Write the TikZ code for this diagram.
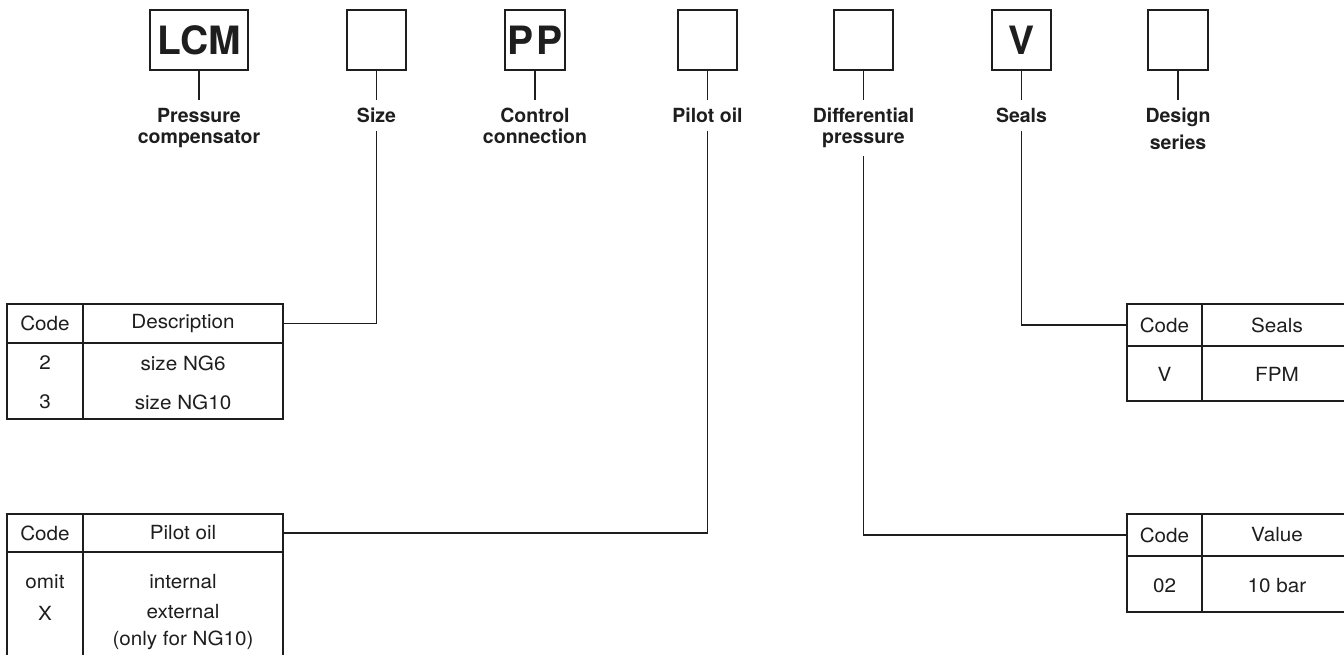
\documentclass[tikz,border=0pt]{standalone}
\usepackage{fontspec}
\setmainfont{TeX Gyre Heros}
\newfontfamily\lblfont{TeX Gyre Heros}
\newfontfamily\tabfont[FakeStretch=1.06]{TeX Gyre Heros}
\definecolor{ink}{HTML}{1E1E1E}
\begin{document}
\begin{tikzpicture}[x=1pt,y=-1pt,
  topbox/.style={draw=ink, line width=1.5pt, minimum height=60pt, minimum width=59pt, inner sep=0pt,
    text=ink, font=\lblfont\bfseries\fontsize{39}{39}\selectfont},
  lbl/.style={anchor=north, inner sep=0pt, outer sep=8pt, align=center, text=ink,
    font=\lblfont\bfseries\fontsize{19.5}{21}\selectfont},
  cell/.style={draw=ink, line width=1.2pt, inner sep=0pt, text=ink,
    font=\tabfont\fontsize{19.5}{27}\selectfont},
  txt/.style={inner sep=0pt, align=center, text=ink, font=\tabfont\fontsize{19.5}{27}\selectfont},
  conn/.style={draw=ink, line width=1.2pt}]
\useasboundingbox (0,0) rectangle (1344,655);
\clip (0,0) rectangle (1344,655);

% top code boxes
\node[topbox, minimum width=98pt] (b1) at (199,40) {LCM};
\node[topbox] (b2) at (376.5,40) {};
\node[topbox, minimum width=60pt] (b3) at (535,40) {P\hspace{3pt}P};
\node[topbox] (b4) at (707.5,40) {};
\node[topbox] (b5) at (863.5,40) {};
\node[topbox] (b6) at (1021.5,40) {V};
\node[topbox, minimum width=60pt] (b7) at (1178,40) {};

% labels
\node[lbl] (l1) at (199,100) {Pressure\\compensator};
\node[lbl] (l2) at (376.5,100) {Size};
\node[lbl] (l3) at (535,100) {Control\\connection};
\node[lbl] (l4) at (707.5,100) {Pilot oil};
\node[lbl] (l5) at (863.5,100) {Differential\\pressure};
\node[lbl] (l6) at (1021.5,100) {Seals};
\node[lbl] (l7) at (1178,100) {Design\\[6pt]series};

\foreach \i in {1,...,7} { \draw[conn] (b\i.south) -- (l\i.north); }

% table: size
\node[cell, minimum width=76pt, minimum height=39pt] (t1c) at (45,323.5) {Code};
\node[cell, minimum width=200pt, minimum height=39pt] (t1d) at (183,323.5) {Description};
\node[cell, minimum width=76pt, minimum height=76pt] (t1cb) at (45,381) {};
\node[cell, minimum width=200pt, minimum height=76pt] (t1db) at (183,381) {};
\node[txt] (t1r1c) at (45,363) {2};
\node[txt] (t1r1d) at (183,363) {size NG6};
\node[txt] (t1r2c) at (45,402) {3};
\node[txt] (t1r2d) at (183,402) {size NG10};

% table: pilot oil
\node[cell, minimum width=76pt, minimum height=38pt] (t2c) at (45,533) {Code};
\node[cell, minimum width=200pt, minimum height=38pt] (t2d) at (183,533) {Pilot oil};
\node[cell, minimum width=76pt, minimum height=110pt] (t2cb) at (45,607) {};
\node[cell, minimum width=200pt, minimum height=110pt] (t2db) at (183,607) {};
\node[txt] (t2r1c) at (45,582) {omit};
\node[txt] (t2r1d) at (183,582) {internal};
\node[txt] (t2r2c) at (45,613) {X};
\node[txt, anchor=north] (t2r2d) at (183,604) {external\\(only for NG10)};

% table: seals
\node[cell, minimum width=75pt, minimum height=42pt] (t3c) at (1164.5,325) {Code};
\node[cell, minimum width=150pt, minimum height=42pt] (t3d) at (1277,325) {Seals};
\node[cell, minimum width=75pt, minimum height=55pt] (t3cb) at (1164.5,373.5) {};
\node[cell, minimum width=150pt, minimum height=55pt] (t3db) at (1277,373.5) {};
\node[txt] (t3r1c) at (1164.5,374) {V};
\node[txt] (t3r1d) at (1277,374) {FPM};

% table: differential pressure
\node[cell, minimum width=75pt, minimum height=42pt] (t4c) at (1164.5,535) {Code};
\node[cell, minimum width=150pt, minimum height=42pt] (t4d) at (1277,535) {Value};
\node[cell, minimum width=75pt, minimum height=56pt] (t4cb) at (1164.5,584) {};
\node[cell, minimum width=150pt, minimum height=56pt] (t4db) at (1277,584) {};
\node[txt] (t4r1c) at (1164.5,586) {02};
\node[txt] (t4r1d) at (1277,586) {10 bar};

% connectors
\draw[conn] (l2.south) |- (t1d.east);
\draw[conn] (l4.south) |- (t2d.east);
\draw[conn] (l5.south) |- (t4c.west);
\draw[conn] (l6.south) |- (t3c.west);
\end{tikzpicture}
\end{document}
